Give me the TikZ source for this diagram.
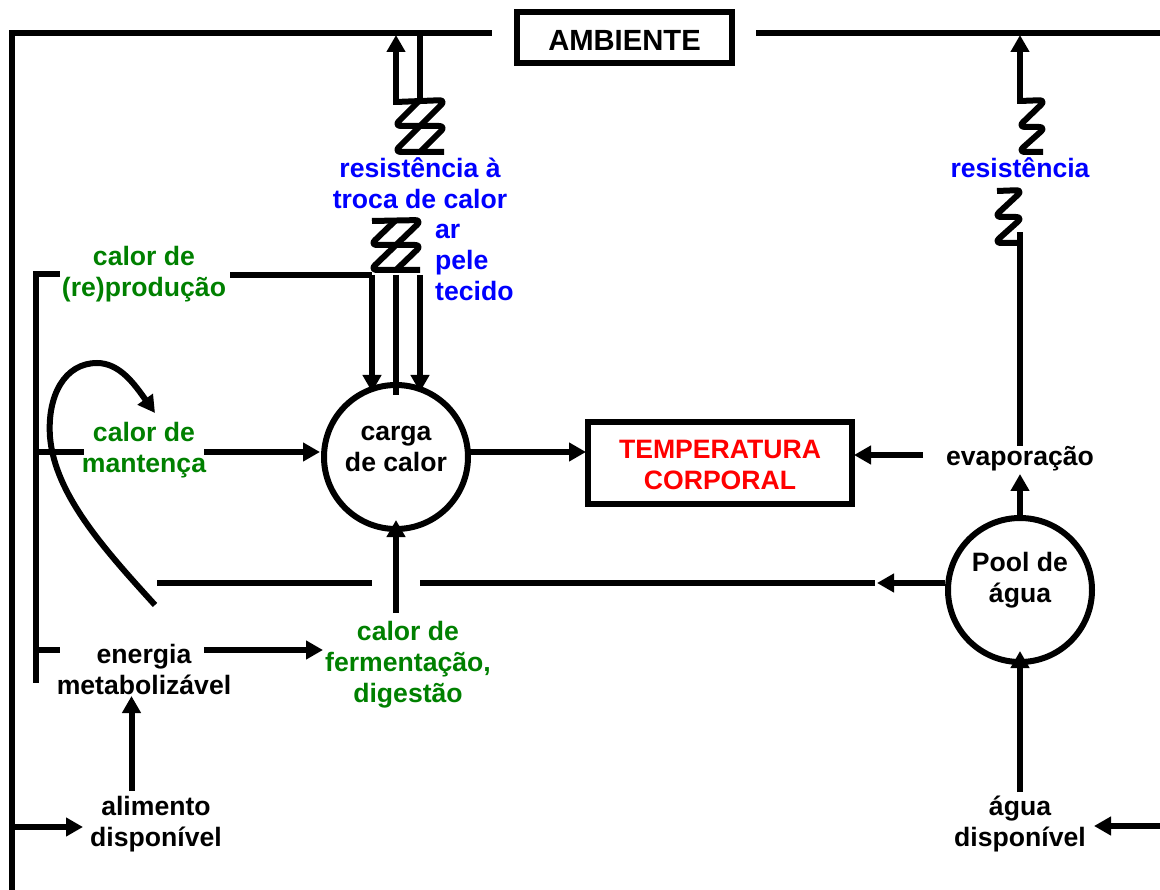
\documentclass[tikz,border=0pt]{standalone}
\usepackage{fontspec}
\setmainfont{Liberation Sans}
\usetikzlibrary{arrows.meta}
\definecolor{dgreen}{RGB}{0,128,0}
\tikzset{
 lbl/.style={font=\bfseries\fontsize{26.6}{31}\selectfont,align=center,inner sep=0pt},
 lblg/.style={lbl,text=dgreen},
 lblb/.style={lbl,text=blue},
 ln/.style={line width=6pt,draw=black},
 arr/.style={ln,-{Triangle[length=17pt,width=18pt]}},
 zig/.style={line width=6pt,rounded corners=7pt,line join=round},
 circ/.style={circle,draw=black,line width=6pt,minimum size=144pt,inner sep=0pt},
 rbox/.style={rectangle,draw=black,line width=6pt,inner sep=0pt},
}
\begin{document}
\begin{tikzpicture}[x=1pt,y=-1pt]
\useasboundingbox (0,0) rectangle (1160,890);
% boxes
\node[rbox,minimum width=215pt,minimum height=51pt] (amb) at (624.5,38) {};
\node[lbl,font=\bfseries\fontsize{29.2}{31}\selectfont] (ambt) at (624.5,40) {AMBIENTE};
\node[rbox,minimum width=264pt,minimum height=82pt] (temp) at (720,463) {};
\node[lbl,text=red] (tempt) at (720,464.5) {TEMPERATURA\\CORPORAL};
\node[circ] (carga) at (396,457) {};
\node[lbl] (cargat) at (396,449) {carga\\de calor};
\node[circ] (pool) at (1020,590) {};
\node[lbl] (poolt) at (1020,580.5) {Pool de\\água};
% labels
\node[lblb] (res1) at (420,183) {resistência à\\troca de calor};
\node[lblb] (res2) at (1020,168) {resistência};
\node[lblb,align=left,anchor=north west] (arpele) at (435,224) {ar\\pele\\tecido};
\node[lblg] (creprod) at (144,274) {calor de\\(re)produção};
\node[lblg] (cmant) at (144,450.5) {calor de\\mantença};
\node[lblg] (cferm) at (408,665) {calor de\\fermentação,\\digestão};
\node[lbl] (emet) at (144,669) {energia\\metabolizável};
\node[lbl] (evap) at (1020,459) {evaporação};
\node[lbl] (alim) at (156,824) {alimento\\disponível};
\node[lbl] (agua) at (1020,824) {água\\disponível};
% frame
\coordinate (tl) at (12,33);
\coordinate (bl) at (12,890);
\coordinate (tlend) at (492,33);
\coordinate (trstart) at (756,33);
\coordinate (tr) at (1160,33);
\draw[ln,line join=miter] (bl) -- (tl) -- (tlend);
\draw[ln] (trstart) -- (tr);
% inner rail
\coordinate (r1) at (36,274);
\coordinate (r1e) at (60,274);
\coordinate (r2) at (36,650);
\coordinate (r2e) at (60,650);
\coordinate (r3) at (36,683);
\draw[ln,line join=miter] (r1e) -- (r1) -- (r3);
\draw[ln] (r2) -- (r2e);
\coordinate (r4) at (36,452);
\coordinate (r4e) at (84,452);
\draw[ln] (r4) -- (r4e);
% reproduction to carga
\coordinate (rp1) at (230,275);
\coordinate (rp2) at (372,275);
\coordinate (rpa) at (372,392);
\draw[ln] (rp1) -- (rp2);
\draw[arr] (rp2) -- (rpa);
\coordinate (m1) at (396,275);
\coordinate (m2) at (396,395);
\draw[ln] (m1) -- (m2);
\coordinate (t1) at (420,275);
\coordinate (t2) at (420,392);
\draw[arr] (t1) -- (t2);
% zigzag lower (double)
\draw[zig] (396,220) -- (370,245) -- (422,245) -- (396,270);
\draw[zig] (372,221) -- (422,220) -- (396,245);
\draw[zig] (396,245) -- (370,270) -- (420,270);
% zigzag upper (double)
\coordinate (u1) at (396,105);
\coordinate (u2) at (396,35);
\draw[arr] (u1) -- (u2);
\coordinate (u3) at (420,100);
\coordinate (u4) at (420,33);
\draw[ln] (u3) -- (u4);
\draw[zig] (420,100) -- (394,126) -- (446,126) -- (420,152);
\draw[zig] (396,102) -- (446,100) -- (420,126);
\draw[zig] (420,126) -- (394,152) -- (444,152);
% right resistances
\draw[arr] (1020,104) -- (1020,35);
\draw[zig] (1020,101) -- (1046,100) -- (1018,127) -- (1046,127) -- (1018,152) -- (1043,152);
\draw[zig] (997,191) -- (1023,190) -- (994,217) -- (1023,217) -- (994,243) -- (1020,243);
\coordinate (ev1) at (1020,446);
\coordinate (ev2) at (1020,232);
\draw[ln] (ev1) -- (ev2);
% other arrows
\coordinate (ca) at (470,452);
\coordinate (cb) at (586,452);
\draw[arr] (ca) -- (cb);
\coordinate (ta) at (923,455);
\coordinate (tb) at (854,455);
\draw[arr] (ta) -- (tb);
\coordinate (pe) at (1020,516);
\coordinate (pe2) at (1020,474);
\draw[arr] (pe) -- (pe2);
\coordinate (ma) at (204,452);
\coordinate (mb) at (320,452);
\draw[arr] (ma) -- (mb);
% water line
\coordinate (w1) at (945,583);
\coordinate (w2) at (420,583);
\coordinate (w3) at (372,583);
\coordinate (w4) at (157,583);
\coordinate (w5) at (877,583);
\coordinate (w6) at (875,583);
\draw[ln] (w6) -- (w2);
\draw[arr] (w1) -- (w5);
\draw[ln] (w3) -- (w4);
% curve
\coordinate (c1) at (155,605);
\coordinate (c2) at (155,413);
\draw[line width=6pt,-{Triangle[length=17pt,width=18pt]}] (c1) .. controls (105,550) and (55,495) .. (50,437) .. controls (47,395) and (65,363) .. (97,363) .. controls (120,363) and (135,385) .. (c2);
% lower arrows
\coordinate (fa) at (396,613);
\coordinate (fb) at (396,520);
\draw[arr] (fa) -- (fb);
\coordinate (ea) at (204,650);
\coordinate (eb) at (323,650);
\draw[arr] (ea) -- (eb);
\coordinate (aa) at (131.5,791);
\coordinate (ab) at (131.5,696);
\draw[arr] (aa) -- (ab);
\coordinate (fl) at (12,827);
\coordinate (fl2) at (83,827);
\draw[arr] (fl) -- (fl2);
\coordinate (fr) at (1160,826);
\coordinate (fr2) at (1094,826);
\draw[arr] (fr) -- (fr2);
\coordinate (pa) at (1020,792);
\coordinate (pb) at (1020,651);
\draw[arr] (pa) -- (pb);
\end{tikzpicture}
\end{document}
